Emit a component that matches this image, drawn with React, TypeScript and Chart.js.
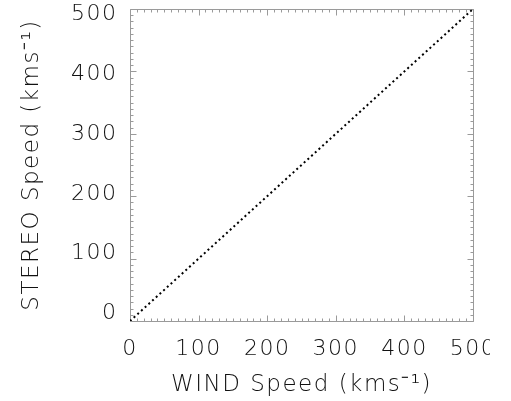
import React, { useEffect, useRef } from "react";
import { Chart, registerables } from "chart.js";

Chart.register(...registerables);

// Reference line: STEREO speed equal to WIND speed
const windSpeed = [0, 500];
const stereoSpeed = [0, 500];

// Axis range, labelled values and minor tick step (same on both axes)
const axisMin = 0;
const axisMax = 500;
const tickValues = [0, 100, 200, 300, 400, 500];
const minorStep = 10;

// Vertical label placement: labels sit slightly inside the ends of the axis
const yLabelRange = [-12.5, 509.2];

const xTitle = "WIND Speed (kms\u207B\u00B9)";
const yTitle = "STEREO Speed (kms\u207B\u00B9)";

const FONT_FAMILY = "'DejaVu Sans', sans-serif";
const TEXT_COLOR = "#111111";
const FRAME_COLOR = "#9a9a9a";
const TICK_SPACING = "1.5px";
const TITLE_SPACING = "5.4px";

// Box around the plot with inward major/minor tick marks on all four sides
const frameTicks = {
  id: "frameTicks",
  beforeDatasetsDraw(chart: any) {
    const { ctx, chartArea } = chart;
    const xs = chart.scales.x;
    const ys = chart.scales.y;
    const l = Math.round(chartArea.left) + 0.5;
    const r = Math.round(chartArea.right) + 0.5;
    const t = Math.round(chartArea.top) + 0.5;
    const b = Math.round(chartArea.bottom) + 0.5;
    ctx.save();
    ctx.strokeStyle = FRAME_COLOR;
    ctx.lineWidth = 1;
    ctx.beginPath();
    ctx.rect(l, t, r - l, b - t);
    for (let v = axisMin; v <= axisMax; v += minorStep) {
      const len = tickValues.includes(v) ? 6 : 3;
      const px = Math.round(xs.getPixelForValue(v)) + 0.5;
      ctx.moveTo(px, b);
      ctx.lineTo(px, b - len);
      ctx.moveTo(px, t);
      ctx.lineTo(px, t + len);
      const py = Math.round(ys.getPixelForValue(v)) + 0.5;
      ctx.moveTo(l, py);
      ctx.lineTo(l + len, py);
      ctx.moveTo(r, py);
      ctx.lineTo(r - len, py);
    }
    ctx.stroke();
    ctx.restore();
  },
};

// Tick labels are drawn on layer z=0, the axis titles on layer z=1
const spacing = {
  id: "spacing",
  beforeUpdate(chart: any) {
    chart.ctx.letterSpacing = TICK_SPACING;
  },
  beforeDraw(chart: any) {
    chart.ctx.letterSpacing = TICK_SPACING;
  },
  afterDatasetsDraw(chart: any) {
    chart.ctx.letterSpacing = TITLE_SPACING;
  },
  afterDraw(chart: any) {
    chart.ctx.letterSpacing = TICK_SPACING;
  },
};

export default function App() {
  const ref = useRef<HTMLCanvasElement>(null);

  useEffect(() => {
    const canvas = ref.current;
    if (!canvas) return;
    const font = { family: FONT_FAMILY, size: 22, weight: 200 as any, lineHeight: 1.2 };
    const titleFont = { family: FONT_FAMILY, size: 23, weight: 200 as any, lineHeight: 1.2 };
    const tickLabel = (v: any) => (tickValues.includes(Number(v)) ? String(v) : "");
    const fixedTicks = (s: any) => {
      s.ticks = tickValues.map((v) => ({ value: v }));
    };
    const hidden = { display: false, drawTicks: false };

    const chart = new Chart(canvas, {
      type: "scatter",
      data: {
        datasets: [
          {
            data: windSpeed.map((w, i) => ({ x: w, y: stereoSpeed[i] })),
            showLine: true,
            borderColor: "#000000",
            borderWidth: 2,
            borderDash: [2, 3],
            pointRadius: 0,
            fill: false,
          },
        ],
      },
      options: {
        animation: false,
        responsive: false,
        devicePixelRatio: 1,
        layout: { padding: { left: 0, right: 17, top: 9, bottom: 0 } },
        plugins: { legend: { display: false }, tooltip: { enabled: false } },
        scales: {
          x: {
            type: "linear",
            position: "bottom",
            weight: 1,
            min: axisMin,
            max: axisMax,
            grid: hidden,
            border: { display: false },
            afterBuildTicks: fixedTicks,
            ticks: {
              autoSkip: false,
              maxRotation: 0,
              padding: 15,
              color: TEXT_COLOR,
              font,
              callback: tickLabel,
            },
            afterFit: (s: any) => {
              s.height = 50;
              s.paddingLeft = 0;
              s.paddingRight = 0;
            },
          },
          xTitle: {
            type: "linear",
            position: "bottom",
            weight: 2,
            min: axisMin,
            max: axisMax,
            grid: hidden,
            border: { display: false },
            ticks: { display: false, z: 1 },
            title: { display: true, text: xTitle, color: TEXT_COLOR, font: titleFont, padding: { top: 0, bottom: 2 } },
            afterFit: (s: any) => {
              s.height = 30;
              s.paddingLeft = 0;
              s.paddingRight = 0;
            },
          },
          y: {
            type: "linear",
            min: axisMin,
            max: axisMax,
            display: false,
          },
          yLabels: {
            type: "linear",
            position: "left",
            weight: 1,
            min: yLabelRange[0],
            max: yLabelRange[1],
            grid: hidden,
            border: { display: false },
            afterBuildTicks: fixedTicks,
            ticks: {
              autoSkip: false,
              padding: 12.5,
              color: TEXT_COLOR,
              font,
              callback: tickLabel,
            },
            afterFit: (s: any) => {
              s.width = 85;
              s.paddingTop = 0;
              s.paddingBottom = 0;
            },
          },
          yTitle: {
            type: "linear",
            position: "left",
            weight: 2,
            min: axisMin,
            max: axisMax,
            grid: hidden,
            border: { display: false },
            ticks: { display: false, z: 1 },
            title: { display: true, text: yTitle, color: TEXT_COLOR, font: titleFont, padding: { top: 18, bottom: 0 } },
            afterFit: (s: any) => {
              s.width = 45;
              s.paddingTop = 0;
              s.paddingBottom = 0;
            },
          },
        },
      },
      plugins: [spacing, frameTicks],
    });
    return () => chart.destroy();
  }, []);

  return (
    <div style={{ position: "fixed", left: 0, top: 0, width: 511, height: 401, background: "#fff" }}>
      <canvas ref={ref} width={490} height={401} style={{ display: "block" }} />
    </div>
  );
}
